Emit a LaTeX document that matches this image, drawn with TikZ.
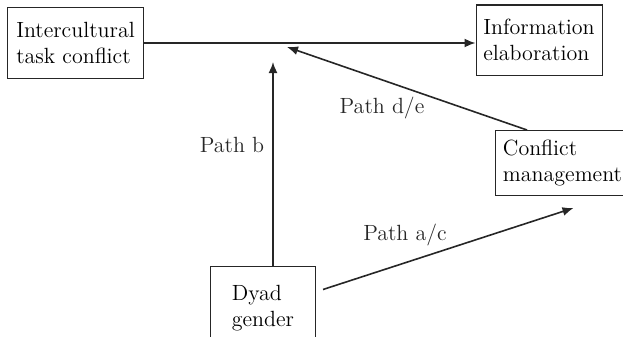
\documentclass[tikz,border=0pt]{standalone}
\usepackage{tikz}
\usetikzlibrary{arrows.meta,positioning}
\tikzset{
  varbox/.style={
    draw=black!85, line width=0.5pt, rectangle,
    align=left, font=\fontsize{11}{13}\selectfont,
    inner sep=1pt},
  patharrow/.style={
    -{Latex[length=5.5pt,width=4.5pt]}, line width=0.8pt, color=black!85},
  pathlabel/.style={font=\fontsize{11}{13}\selectfont, text=black!85},
}

\begin{document}
\begin{tikzpicture}[x=0.5pt,y=-0.5pt]
  \useasboundingbox (0,0) rectangle (623,337);
  \node[varbox, minimum width=67.5pt, minimum height=35.5pt] (itc) at (75.5,42.5)
    {Intercultural\\task conflict};
  \node[varbox, minimum width=63pt, minimum height=35pt] (ie) at (539,40)
    {Information\\elaboration};
  \node[varbox, minimum width=67pt, minimum height=32.5pt, anchor=north west] (cm) at (495,130)
    {Conflict\\management};
  \node[varbox, minimum width=52.5pt, minimum height=42pt, anchor=north west] (dg) at (210,266)
    {Dyad\\gender};
  \coordinate (bjoin) at (273,62);
  \coordinate (dejoin) at (287,47);
  % paths
  \draw[patharrow] (itc.east |- 0,43) -- (ie.west |- 0,43);
  \draw[patharrow] (dg.north -| bjoin) -- (bjoin);
  \draw[patharrow] ([xshift=16pt]cm.north west) -- (dejoin);
  \draw[patharrow] ([shift={(3.5pt,9.5pt)}]dg.east) -- ([shift={(5.5pt,-6pt)}]cm.south);
  \node[pathlabel] (lb) at (232,145) {Path b};
  \node[pathlabel] (lde) at (382,108) {Path d/e};
  \node[pathlabel] (lac) at (405,235) {Path a/c};
\end{tikzpicture}
\end{document}
